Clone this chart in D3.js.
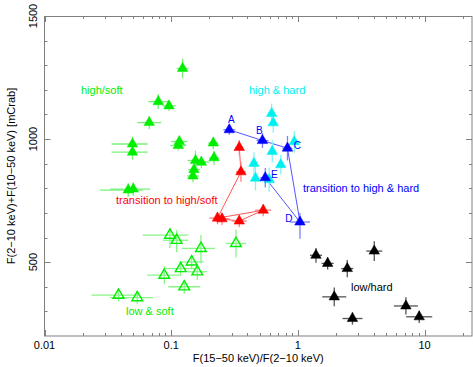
<!DOCTYPE html>
<html><head><meta charset="utf-8">
<script src="https://cdn.jsdelivr.net/npm/d3@7/dist/d3.min.js"></script>
<style>body{margin:0;background:#fff}svg text{font-family:"Liberation Sans",Arial,Helvetica,sans-serif}</style>
</head><body><svg id="c" width="473" height="367"></svg>
<script>
// each point: [x, y, xlo, xhi, ylo, yhi]
const highSoft = [
 [0.123,1287,0.1105,0.1365,1247,1327],[0.0791,1152,0.066,0.0948,1122,1182],
 [0.0961,1135,0.0851,0.1085,1115,1155],[0.0671,1067,0.054,0.0835,1040,1094],
 [0.0495,980,0.0339,0.0652,950,1010],[0.0495,947,0.0339,0.0652,917,977],
 [0.116,990,0.100,0.134,970,1010],[0.1138,974,0.0984,0.1317,954,994],
 [0.215,984,0.196,0.235,959,1009],[0.218,924,0.199,0.239,896,952],
 [0.1556,913,0.1345,0.18,880,953],[0.173,906,0.1495,0.2,881,931],
 [0.1514,876,0.1358,0.1688,856,896],[0.1486,850,0.1333,0.1657,825,875],
 [0.0458,793,0.0274,0.060,765,821],[0.0502,797,0.033,0.068,769,825]
];
const lowSoft = [
 [0.0978,610,0.0596,0.1365,557,638],[0.1105,589,0.0861,0.1365,540,630],
 [0.1718,556,0.1209,0.2215,496,610],[0.3246,576,0.27,0.39,519,633],
 [0.1451,501,0.1166,0.1805,473,529],[0.1189,474,0.0906,0.156,446,502],
 [0.1607,461,0.134,0.193,429,493],[0.0882,447,0.0648,0.12,410,484],
 [0.1268,400,0.0948,0.1695,372,428],[0.0384,366,0.0235,0.0567,341,391],
 [0.054,356,0.0329,0.0718,331,381]
];
const toHighSoft = [
 [0.3447,966,0.32,0.37,936,996],[0.3556,867,0.325,0.389,827,907],
 [0.232,679,0.2,0.268,654,704],[0.533,711,0.46,0.617,686,736],
 [0.3447,667,0.3,0.396,642,692],[0.252,676,0.22,0.29,651,701]
];
const toHighHard = [
 [0.2874,1038,0.258,0.32,1018,1058],[0.5255,994,0.471,0.586,964,1024],
 [0.828,963,0.756,0.906,913,1013],[1.039,663,0.866,1.247,595,700],
 [0.553,843,0.505,0.605,803,883]
];
const toHighHardLabels = ["A","B","C","D","E"];
const highHard = [
 [0.621,1104,0.588,0.656,1064,1144],[0.639,1066,0.605,0.675,1026,1106],
 [0.937,989,0.887,0.99,944,1034],[0.628,950,0.595,0.663,905,995],
 [0.450,901,0.426,0.475,856,946],[0.733,896,0.694,0.774,856,936],
 [0.463,841,0.438,0.489,791,891],[0.594,835,0.562,0.627,785,885]
];
const lowHard = [
 [1.39,528,1.247,1.55,498,558],[1.719,495,1.54,1.917,470,520],
 [2.455,474,2.2,2.74,439,509],[4.01,545,3.47,4.64,505,585],
 [1.938,359,1.56,2.41,321,397],[2.698,271,2.25,3.24,246,296],
 [7.13,322,5.73,8.87,287,357],[9.08,278,7.17,11.5,253,303]
];
const xTicks = [0.01,0.1,1,10];
const xTickLabels = ["0.01","0.1","1","10"];
const yTicks = [500,1000,1500];

const svg = d3.select("#c");
const L=44.5, R=472, T=16, B=336;
const x = d3.scaleLog().domain([0.01,23.7]).range([L,R]);
const y = d3.scaleLinear().domain([200,1500]).range([B,T]);
const frameCol="#808080";

// minor ticks
const xMinor=[];
for(let d=0.01; d<20; d*=10){ for(let k=2;k<=9;k++){ const v=d*k; if(v<23.7) xMinor.push(v);} }
const yMinor=d3.range(300,1500,100).filter(v=>v%500!==0);
const g=svg.append("g");
function tick(x1,y1,x2,y2){ g.append("line").attr("x1",x1).attr("y1",y1).attr("x2",x2).attr("y2",y2).attr("stroke",frameCol).attr("stroke-width",1); }
xMinor.forEach(v=>{const px=Math.round(x(v))+0.5; tick(px,B,px,B-3); tick(px,T,px,T+3);});
xTicks.forEach(v=>{const px=Math.round(x(v))+0.5; tick(px,B,px,B-6); tick(px,T,px,T+6);});
yMinor.forEach(v=>{const py=Math.round(y(v))+0.5; tick(L,py,L+3,py); tick(R,py,R-3,py);});
yTicks.forEach(v=>{const py=Math.round(y(v))+0.5; tick(L,py,L+6,py); tick(R,py,R-6,py);});
g.append("rect").attr("x",44.5).attr("y",16.5).attr("width",R-44.5).attr("height",B-16.5)
 .attr("fill","none").attr("stroke",frameCol).attr("stroke-width",1);

// tick labels
xTicks.forEach((v,i)=>{ svg.append("text").attr("x",x(v)).attr("y",349).attr("text-anchor","middle")
  .attr("font-size",11).attr("fill","#000").text(xTickLabels[i]); });
yTicks.forEach(v=>{ svg.append("text").attr("transform",`translate(37,${y(v)}) rotate(-90)`)
  .attr("text-anchor","middle").attr("font-size",11).attr("fill","#000").text(v); });
svg.append("text").attr("x",(L+R)/2).attr("y",362).attr("text-anchor","middle").attr("font-size",11)
  .text("F(15\u221250 keV)/F(2\u221210 keV)");
svg.append("text").attr("transform",`translate(15,${(T+B)/2}) rotate(-90)`).attr("text-anchor","middle")
  .attr("font-size",11).text("F(2\u221210 keV)+F(10\u221250 keV) [mCrab]");

// connecting paths
const line=d3.line().x(d=>x(d[0])).y(d=>y(d[1]));
svg.append("path").datum(toHighSoft).attr("d",line).attr("fill","none").attr("stroke","#f55").attr("stroke-width",1);
svg.append("path").datum(toHighHard).attr("d",line).attr("fill","none").attr("stroke","#55f").attr("stroke-width",1);

function series(data,col,barCol,open){
  const s=svg.append("g");
  s.selectAll(".h").data(data).join("line").attr("x1",d=>x(d[2])).attr("x2",d=>x(d[3]))
   .attr("y1",d=>y(d[1])).attr("y2",d=>y(d[1])).attr("stroke",barCol).attr("stroke-width",1.3);
  s.selectAll(".v").data(data).join("line").attr("x1",d=>x(d[0])).attr("x2",d=>x(d[0]))
   .attr("y1",d=>y(d[4])).attr("y2",d=>y(d[5])).attr("stroke",barCol).attr("stroke-width",1.3);
  const sym=d3.symbol().type(d3.symbolTriangle).size(open?50:48);
  s.selectAll("path").data(data).join("path").attr("d",sym)
   .attr("transform",d=>`translate(${x(d[0])},${y(d[1])})`)
   .attr("fill",open?"none":col).attr("stroke",col).attr("stroke-width",open?1.4:0.5);
}
series(lowSoft,"#00ee00","#88f588",true);
series(highSoft,"#00ee00","#77f077",false);
series(toHighSoft,"#ff0000","#ff8080",false);
series(highHard,"#00f0f0","#80f4f4",false);
series(toHighHard,"#0000ff","#7f7fff",false);
series(lowHard,"#000000","#555555",false);

// letter labels
const off=[[2,-10],[-3,-10],[10,-3],[-11,-4],[9,-3]];
toHighHard.forEach((d,i)=>{ svg.append("text").attr("x",x(d[0])+off[i][0]).attr("y",y(d[1])+off[i][1]+3.5)
  .attr("text-anchor","middle").attr("font-size",10).attr("fill","#0000ff").text(toHighHardLabels[i]); });

// region labels
function lab(t,px,py,c){ svg.append("text").attr("x",px).attr("y",py).attr("font-size",11).attr("fill",c).text(t); }
lab("high/soft",81,94,"#00ee00");
lab("high & hard",249,94,"#00eeee");
lab("transition to high/soft",116,204,"#ff0000");
lab("transition to high & hard",303,192,"#0000ff");
lab("low/hard",351,291,"#000000");
lab("low & soft",126,315,"#00ee00");
</script></body></html>
